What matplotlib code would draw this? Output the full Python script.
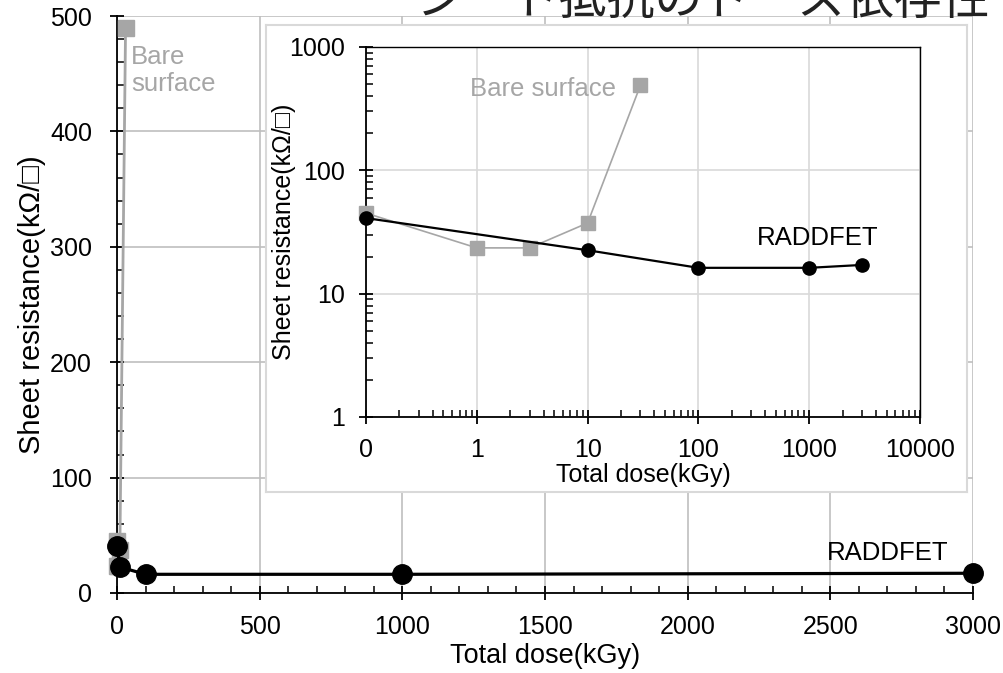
import matplotlib

matplotlib.use('Agg')
import matplotlib.pyplot as plt
from matplotlib.ticker import MultipleLocator, LogLocator, FixedLocator, FixedFormatter, NullFormatter
import numpy as np

plt.rcParams['font.family'] = ['Liberation Sans', 'DejaVu Sans']

# data (kGy, kOhm/sq)
bare_dose = [0, 1, 3, 10, 30]
bare_res = [45, 23.5, 23.5, 37.4, 490]
rad_dose = [0, 10, 100, 1000, 3000]
rad_res = [41, 22.5, 16.2, 16.2, 17.1]

# the log inset puts 0 at 0.1
bare_dose_log = [0.1, 1, 3, 10, 30]
rad_dose_log = [0.1, 10, 100, 1000, 3000]
inset_xticks = [0.1, 1, 10, 100, 1000, 10000]
inset_xlabels = ['0', '1', '10', '100', '1000', '10000']

gray = '#a6a6a6'
W, H = 1004, 673

def box(l, t, r, b):
    return [l / W, 1 - b / H, (r - l) / W, (b - t) / H]

fig = plt.figure(figsize=(10.04, 6.73), dpi=100)

# main plot
ax = fig.add_axes(box(117, 16, 973, 593))
ax.plot(bare_dose, bare_res, color=gray, lw=2, marker='s', ms=11.5, clip_on=False, zorder=3)
ax.plot(rad_dose, rad_res, color='black', lw=2.3, marker='o', ms=14, clip_on=False, zorder=4)
ax.set_xlim(0, 3000)
ax.set_ylim(0, 500)
ax.xaxis.set_major_locator(MultipleLocator(500))
ax.xaxis.set_minor_locator(MultipleLocator(100))
ax.yaxis.set_major_locator(MultipleLocator(100))
ax.yaxis.set_minor_locator(MultipleLocator(20))
ax.grid(True, which='major', color='#bfbfbf', lw=1.2)
ax.set_axisbelow(True)
for s in ['top', 'right']:
    ax.spines[s].set_visible(False)
for s in ['left', 'bottom']:
    ax.spines[s].set_linewidth(1.3)
ax.tick_params(which='major', direction='inout', length=10, width=1.3, labelsize=18)
ax.tick_params(axis='x', which='major', pad=11)
ax.tick_params(axis='y', which='major', pad=13)
ax.tick_params(which='minor', direction='in', length=5, width=1.1)
ax.set_xlabel('Total dose(kGy)', fontsize=19.5, labelpad=3)
ax.set_ylabel('Sheet resistance(kΩ/□)', fontsize=21, labelpad=3)
ax.text(49, 453, 'Bare\nsurface', color=gray, fontsize=18.5, ha='left', va='center', linespacing=1.15)
ax.text(2702, 35, 'RADDFET', color='black', fontsize=18.5, ha='center', va='center')

# white frame behind inset
bg = fig.add_axes(box(266, 25, 967, 492), zorder=5)
bg.set_xticks([])
bg.set_yticks([])
for s in bg.spines.values():
    s.set_color('#d9d9d9')
    s.set_linewidth(1.5)

# inset log plot
ins = fig.add_axes(box(366, 47, 920, 417), zorder=6)
ins.set_xscale('log')
ins.set_yscale('log')
ins.plot(bare_dose_log, bare_res, color=gray, lw=1.2, marker='s', ms=9.5, clip_on=False, zorder=3)
ins.plot(rad_dose_log, rad_res, color='black', lw=1.6, marker='o', ms=9.5, clip_on=False, zorder=4)
ins.set_xlim(0.1, 10000)
ins.set_ylim(1, 1000)
ins.xaxis.set_major_locator(FixedLocator(inset_xticks))
ins.xaxis.set_major_formatter(FixedFormatter(inset_xlabels))
ins.xaxis.set_minor_locator(LogLocator(base=10, subs=np.arange(2, 10)))
ins.xaxis.set_minor_formatter(NullFormatter())
ins.yaxis.set_major_locator(FixedLocator([1, 10, 100, 1000]))
ins.yaxis.set_major_formatter(FixedFormatter(['1', '10', '100', '1000']))
ins.yaxis.set_minor_locator(LogLocator(base=10, subs=np.arange(2, 10)))
ins.yaxis.set_minor_formatter(NullFormatter())
ins.grid(True, which='major', color='#d9d9d9', lw=1.2)
ins.set_axisbelow(True)
for s in ins.spines.values():
    s.set_linewidth(1.3)
ins.spines['top'].set_linewidth(1.0)
ins.spines['right'].set_linewidth(1.0)
ins.tick_params(which='major', direction='inout', length=10, width=1.3, labelsize=18)
ins.tick_params(axis='x', which='major', pad=10)
ins.tick_params(axis='y', which='major', pad=10)
ins.tick_params(which='minor', direction='in', length=5, width=1.1)
ins.set_xlabel('Total dose(kGy)', fontsize=18, labelpad=1)
ins.set_ylabel('Sheet resistance(kΩ/□)', fontsize=18, labelpad=-5)
ins.text(3.95, 457, 'Bare surface', color=gray, fontsize=18.5, ha='center', va='center')
ins.text(1200, 28.3, 'RADDFET', color='black', fontsize=18.5, ha='center', va='center')

# title cut off at the top edge
fig.text(990 / W, 1 - 14 / H, 'シート抵抗のドーズ依存性', fontsize=34.5,
         family=['Noto Sans CJK JP', 'DejaVu Sans'], ha='right', va='baseline', color='#222222')

fig.savefig('out.png', dpi=100)
